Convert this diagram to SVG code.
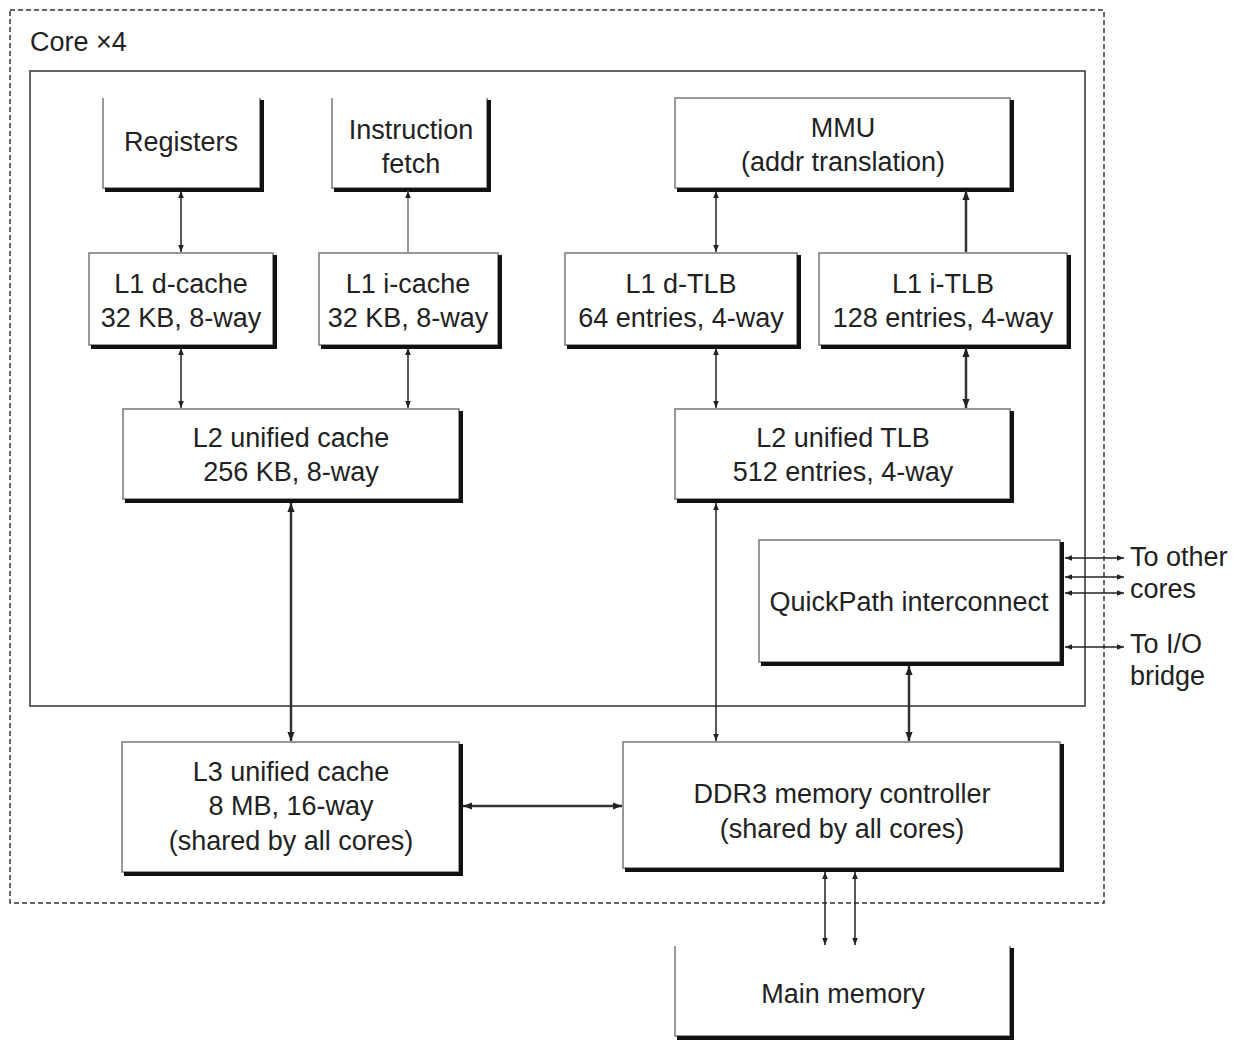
<svg xmlns="http://www.w3.org/2000/svg" width="1239" height="1041" viewBox="0 0 1239 1041">
<style>
text{font-family:"Liberation Sans",Arial,sans-serif;font-size:27px;fill:#222;text-anchor:middle}
.box{fill:#fff;stroke:#777;stroke-width:1.5}
.sh{fill:none;stroke:#111;stroke-width:4}
.c{fill:none;stroke:#222;stroke-width:1.5}
.ct{fill:none;stroke:#333;stroke-width:2.5}
</style>
<defs>
<marker id="a" viewBox="0 0 10 10" refX="10" refY="5" markerWidth="7" markerHeight="7" markerUnits="userSpaceOnUse" orient="auto-start-reverse"><path d="M0,1 L10,5 L0,9 z" fill="#222"/></marker>
<marker id="b" viewBox="0 0 10 10" refX="10" refY="5" markerWidth="9" markerHeight="9" markerUnits="userSpaceOnUse" orient="auto-start-reverse"><path d="M0,1 L10,5 L0,9 z" fill="#222"/></marker>
</defs>
<rect x="0" y="0" width="1239" height="1041" fill="#fff"/>
<rect x="10" y="10" width="1094" height="893" fill="none" stroke="#333" stroke-width="1.5" stroke-dasharray="5,3"/>
<text x="30" y="51" style="text-anchor:start">Core ×4</text>
<rect x="30" y="71" width="1055" height="635" fill="none" stroke="#333" stroke-width="1.5"/>

<g id="registers"><path class="box" d="M103,98 V188 H260 V98"/><path class="sh" d="M262,100 V190 H105"/><text x="181" y="151">Registers</text></g>
<g id="ifetch"><path class="box" d="M332,98 V188 H487 V98"/><path class="sh" d="M489,100 V190 H334"/><text x="411" y="139">Instruction</text><text x="411" y="173">fetch</text></g>
<g id="mmu"><rect class="box" x="675" y="98" width="335" height="90"/><path class="sh" d="M1012,100 V190 H677"/><text x="843" y="137">MMU</text><text x="843" y="171">(addr translation)</text></g>

<g id="l1d"><rect class="box" x="89" y="253" width="184" height="92"/><path class="sh" d="M275,255 V347 H91"/><text x="181" y="293">L1 d-cache</text><text x="181" y="327">32 KB, 8-way</text></g>
<g id="l1i"><rect class="box" x="319" y="253" width="179" height="92"/><path class="sh" d="M500,255 V347 H321"/><text x="408" y="293">L1 i-cache</text><text x="408" y="327">32 KB, 8-way</text></g>
<g id="l1dtlb"><rect class="box" x="565" y="253" width="232" height="92"/><path class="sh" d="M799,255 V347 H567"/><text x="681" y="293">L1 d-TLB</text><text x="681" y="327">64 entries, 4-way</text></g>
<g id="l1itlb"><rect class="box" x="819" y="253" width="248" height="92"/><path class="sh" d="M1069,255 V347 H821"/><text x="943" y="293">L1 i-TLB</text><text x="943" y="327">128 entries, 4-way</text></g>

<g id="l2cache"><rect class="box" x="123" y="409" width="336" height="90"/><path class="sh" d="M461,411 V501 H125"/><text x="291" y="447">L2 unified cache</text><text x="291" y="481">256 KB, 8-way</text></g>
<g id="l2tlb"><rect class="box" x="675" y="409" width="335" height="90"/><path class="sh" d="M1012,411 V501 H677"/><text x="843" y="447">L2 unified TLB</text><text x="843" y="481">512 entries, 4-way</text></g>

<g id="qpi"><rect class="box" x="759" y="540" width="301" height="122"/><path class="sh" d="M1062,542 V664 H761"/><text x="909" y="611">QuickPath interconnect</text></g>

<g id="l3"><rect class="box" x="122" y="742" width="337" height="130"/><path class="sh" d="M461,744 V874 H124"/><text x="291" y="781">L3 unified cache</text><text x="291" y="815">8 MB, 16-way</text><text x="291" y="850">(shared by all cores)</text></g>
<g id="ddr3"><rect class="box" x="623" y="742" width="437" height="126"/><path class="sh" d="M1062,744 V870 H625"/><text x="842" y="803">DDR3 memory controller</text><text x="842" y="838">(shared by all cores)</text></g>
<g id="mainmem"><path class="box" d="M675,946 V1036 H1010 V946"/><path class="sh" d="M1012,948 V1038 H677"/><text x="843" y="1003">Main memory</text></g>

<g id="connectors">
<line class="c" x1="181" y1="191" x2="181" y2="252" marker-start="url(#a)" marker-end="url(#a)"/>
<line class="c" x1="408" y1="252" x2="408" y2="191" style="stroke:#777" marker-end="url(#a)"/>
<line class="c" x1="181" y1="348" x2="181" y2="408" marker-start="url(#a)" marker-end="url(#a)"/>
<line class="c" x1="408" y1="348" x2="408" y2="408" marker-start="url(#a)" marker-end="url(#a)"/>
<line class="c" x1="716" y1="191" x2="716" y2="252" marker-start="url(#a)" marker-end="url(#a)"/>
<line class="ct" x1="966" y1="252" x2="966" y2="191" marker-end="url(#b)"/>
<line class="c" x1="716" y1="348" x2="716" y2="408" marker-start="url(#a)" marker-end="url(#a)"/>
<line class="ct" x1="966" y1="348" x2="966" y2="408" marker-start="url(#b)" marker-end="url(#b)"/>
<line class="ct" x1="291" y1="503" x2="291" y2="741" marker-start="url(#b)" marker-end="url(#b)"/>
<line class="c" x1="716" y1="503" x2="716" y2="741" marker-start="url(#a)" marker-end="url(#a)"/>
<line class="ct" x1="909" y1="666" x2="909" y2="741" marker-start="url(#b)" marker-end="url(#b)"/>
<line class="ct" x1="463" y1="806" x2="622" y2="806" marker-start="url(#b)" marker-end="url(#b)"/>
<line class="c" x1="825" y1="872" x2="825" y2="945" marker-start="url(#a)" marker-end="url(#a)"/>
<line class="c" x1="855" y1="872" x2="855" y2="945" marker-start="url(#a)" marker-end="url(#a)"/>
<line class="c" x1="1065" y1="558" x2="1124" y2="558" marker-start="url(#a)" marker-end="url(#a)"/>
<line class="c" x1="1065" y1="577" x2="1124" y2="577" marker-start="url(#a)" marker-end="url(#a)"/>
<line class="c" x1="1065" y1="593" x2="1124" y2="593" marker-start="url(#a)" marker-end="url(#a)"/>
<line class="c" x1="1065" y1="647" x2="1124" y2="647" marker-start="url(#a)" marker-end="url(#a)"/>
</g>
<text x="1130" y="566" style="text-anchor:start">To other</text>
<text x="1130" y="598" style="text-anchor:start">cores</text>
<text x="1130" y="653" style="text-anchor:start">To I/O</text>
<text x="1130" y="685" style="text-anchor:start">bridge</text>
</svg>
